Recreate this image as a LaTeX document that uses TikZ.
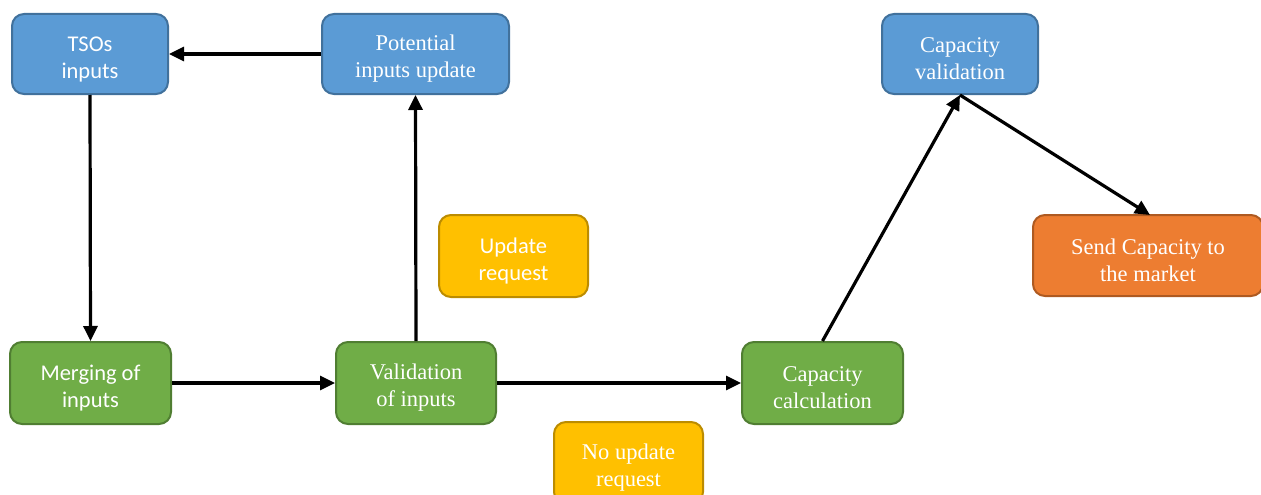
\documentclass[tikz,border=0pt]{standalone}
\usepackage{fontspec}
\setmainfont{Liberation Serif}
\newfontfamily\carlfont{Carlito}
\usetikzlibrary{arrows.meta}
\definecolor{bfill}{HTML}{5B9BD5}\definecolor{bdraw}{HTML}{41719C}
\definecolor{gfill}{HTML}{70AD47}\definecolor{gdraw}{HTML}{507E32}
\definecolor{yfill}{HTML}{FFC000}\definecolor{ydraw}{HTML}{BC8C00}
\definecolor{ofill}{HTML}{ED7D31}\definecolor{odraw}{HTML}{AE5A21}
\newcommand\topst{\rule{0pt}{25pt}}
\tikzset{
  box/.style={rectangle, rounded corners=12pt, line width=2pt, inner sep=0pt,
    align=center, text=white, font=\fontsize{22.5}{27}\selectfont},
  sans/.style={font=\carlfont\fontsize{22.5}{27}\selectfont},
  bluebox/.style={box, fill=bfill, draw=bdraw, minimum height=80pt},
  greenbox/.style={box, fill=gfill, draw=gdraw, minimum height=82pt},
  yellowbox/.style={box, fill=yfill, draw=ydraw, minimum height=82pt},
  orangebox/.style={box, fill=ofill, draw=odraw, minimum height=81pt},
  conn/.style={line width=3.2pt, -{Triangle[length=15pt,width=14pt]}}
}
\begin{document}
\begin{tikzpicture}[x=1pt,y=-1pt]
\useasboundingbox (0,0) rectangle (1261,495);
\clip (0,0) rectangle (1261,495);
\node[bluebox, sans, minimum width=156pt] (tso) at (90,54) {\topst TSOs\\inputs};
\node[bluebox, minimum width=187pt] (pot) at (415.5,54) {\topst Potential\\inputs update};
\node[bluebox, minimum width=156pt] (cval) at (960,54) {\topst Capacity\\validation};
\node[yellowbox, sans, minimum width=149pt] (upd) at (513.5,256) {\topst Update\\request};
\node[orangebox, minimum width=230pt] (send) at (1148,255.5) {\topst Send Capacity to\\the market};
\node[greenbox, sans, minimum width=161pt] (merge) at (90.5,383) {\topst Merging of\\inputs};
\node[greenbox, minimum width=160pt] (valid) at (416,383) {\topst Validation\\of inputs};
\node[greenbox, minimum width=161pt] (ccalc) at (822.5,383) {\topst Capacity\\calculation};
\node[yellowbox, minimum width=149pt] (noupd) at (628.5,463) {\topst No update\\request};
\draw[conn] (pot.west) -- (tso.east);
\draw[conn] (tso.south) -- (merge.north);
\draw[conn] (merge.east) -- (valid.west);
\draw[conn] (valid.north) -- (pot.south);
\draw[conn] (valid.east) -- (ccalc.west);
\draw[conn] (ccalc.north) -- (cval.south);
\coordinate (sendtop) at (1150,215);
\draw[conn] (cval.south) -- (sendtop);
\end{tikzpicture}
\end{document}
